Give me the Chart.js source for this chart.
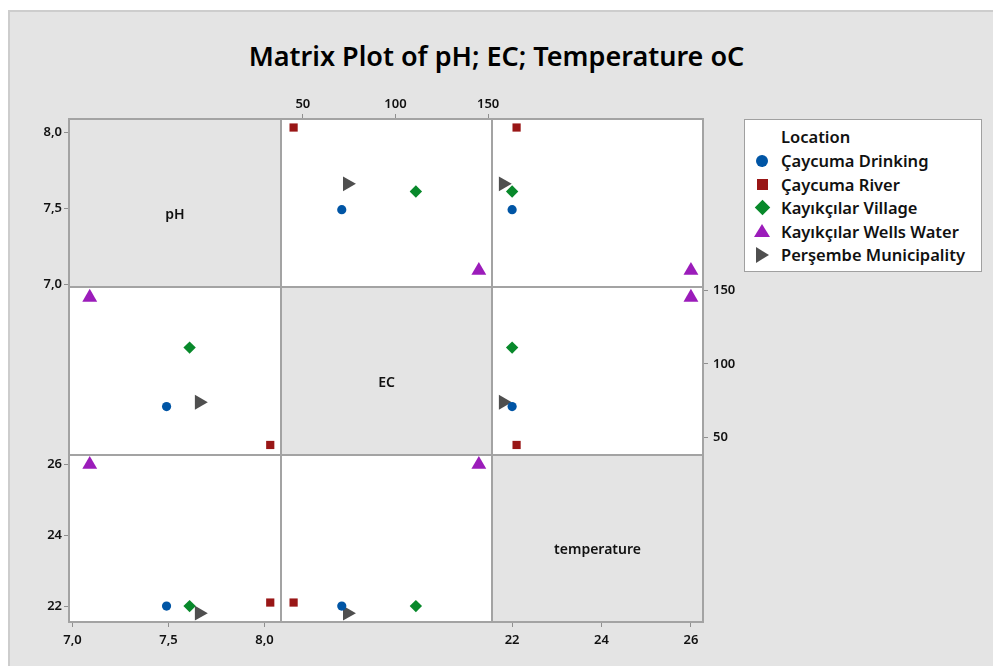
<!DOCTYPE html>
<html lang="en">
<head>
<meta charset="UTF-8">
<script src="https://cdn.jsdelivr.net/npm/chart.js"></script>
<title>Matrix Plot of pH; EC; Temperature oC</title>
<style>
  body { margin: 0; background: #fff; font-family: 'Noto Sans', 'Open Sans', sans-serif; }
  #frame { position: absolute; left: 8px; top: 10px; width: 985px; height: 656px; background: #e4e4e4;
           border-left: 2px solid #cdcdcd; border-top: 2px solid #cdcdcd; box-sizing: border-box; }
  #title { position: absolute; left: 0; top: 37px; width: 993px; text-align: center;
           font-size: 27px; font-weight: 600; color: #000; }
  canvas.panel { position: absolute; }
  #legend { position: absolute; left: 744px; top: 119px; width: 238px; height: 153px; background: #fff;
            border: 1.5px solid #a0a0a0; box-sizing: border-box; font-size: 16.5px; font-weight: 600; color: #111; }
  #legend .row { position: absolute; left: 0; height: 22px; line-height: 22px; white-space: nowrap; }
  #legend .txt { position: absolute; left: 36px; }
  #legend .mk { position: absolute; }
</style>
</head>
<body>
<div id="frame"></div>
<div id="title">Matrix Plot of pH; EC; Temperature oC</div>
<div id="legend"></div>

<script>
// data
const locations = ['Çaycuma Drinking', 'Çaycuma River', 'Kayıkçılar Village', 'Kayıkçılar Wells Water', 'Perşembe Municipality'];
const phValues = [7.49, 8.03, 7.61, 7.09, 7.66];
const ecValues = [71, 45, 111, 145, 74];
const tempValues = [22.0, 22.1, 22.0, 26.0, 21.8];
const varNames = ['pH', 'EC', 'temperature'];
const phTicks = [7, 7.5, 8];
const ecTicks = [50, 100, 150];
const tempTicks = [22, 24, 26];

// marker looks
const colors = ['#0055a5', '#991616', '#08892b', '#9b1cba', '#4f4f4f'];
const shapes = ['circle', 'rect', 'rectRot', 'triangle', 'triangle'];
const rotations = [0, 0, 0, 0, 90];
const radii = [4.6, 5.8, 6.2, 8.6, 8.6];

const fontFam = "'Noto Sans', 'Open Sans', sans-serif";

const vars = [
  { values: phValues, ticks: phTicks, min: 6.982, max: 8.086, fmt: v => v.toFixed(1).replace('.', ',') },
  { values: ecValues, ticks: ecTicks, min: 38.2, max: 152.1, fmt: v => String(v) },
  { values: tempValues, ticks: tempTicks, min: 21.55, max: 26.27, fmt: v => String(v) }
];

// panel grid edges in page pixels
const colX = [69, 281, 492, 703];
const rowY = [119, 287, 455, 622];
const M = 40;

// which panels carry visible axes
const axisSides = {
  '0,0': { y: 'left' },
  '0,1': { x: 'top' },
  '1,2': { y: 'right' },
  '2,0': { y: 'left', x: 'bottom' },
  '2,2': { x: 'bottom' }
};

const panelPlugin = {
  id: 'panel',
  beforeDraw(chart, args, opts) {
    const a = chart.chartArea, ctx = chart.ctx;
    ctx.save();
    ctx.fillStyle = opts.diag ? '#e4e4e4' : '#ffffff';
    ctx.fillRect(a.left, a.top, a.right - a.left, a.bottom - a.top);
    ctx.restore();
  },
  afterDraw(chart, args, opts) {
    const a = chart.chartArea, ctx = chart.ctx;
    ctx.save();
    if (opts.label) {
      ctx.fillStyle = '#111';
      ctx.font = '600 14px ' + fontFam;
      ctx.textAlign = 'center';
      ctx.textBaseline = 'middle';
      ctx.fillText(opts.label, (a.left + a.right) / 2, (a.top + a.bottom) / 2 + 12);
    }
    ctx.strokeStyle = '#a3a3a3';
    ctx.lineWidth = 2;
    ctx.strokeRect(a.left, a.top, a.right - a.left, a.bottom - a.top);
    ctx.restore();
  }
};

function makeScale(v, axis, pos) {
  const sc = {
    type: 'linear',
    position: pos || (axis === 'x' ? 'bottom' : 'left'),
    display: !!pos,
    min: v.min,
    max: v.max,
    afterBuildTicks: s => { s.ticks = v.ticks.map(t => ({ value: t })); },
    grid: { drawOnChartArea: false, drawTicks: true, tickLength: 5, color: '#8f8f8f', lineWidth: 1 },
    border: { display: false },
    ticks: {
      color: '#111',
      font: { family: fontFam, size: 13, weight: '600' },
      padding: (pos === 'right' || pos === 'bottom') ? 5 : 2,
      autoSkip: false, maxRotation: 0,
      callback: val => v.fmt(val)
    }
  };
  if (pos) {
    sc.afterFit = s => {
      if (axis === 'x') s.height = M; else s.width = M;
      s.paddingLeft = s.paddingRight = s.paddingTop = s.paddingBottom = 0;
    };
  }
  return sc;
}

for (let r = 0; r < 3; r++) {
  for (let c = 0; c < 3; c++) {
    const w = colX[c + 1] - colX[c], h = rowY[r + 1] - rowY[r];
    const cv = document.createElement('canvas');
    cv.className = 'panel';
    cv.width = w + 2 * M;
    cv.height = h + 2 * M;
    cv.style.left = (colX[c] - M) + 'px';
    cv.style.top = (rowY[r] - M) + 'px';
    document.body.appendChild(cv);

    const sides = axisSides[r + ',' + c] || {};
    const datasets = [];
    if (r !== c) {
      locations.forEach((name, i) => {
        datasets.push({
          label: name,
          data: [{ x: vars[c].values[i], y: vars[r].values[i] }],
          pointStyle: shapes[i],
          pointRotation: rotations[i],
          pointRadius: radii[i],
          pointHoverRadius: radii[i],
          pointBackgroundColor: colors[i],
          pointBorderColor: colors[i],
          pointBorderWidth: 0
        });
      });
    }

    new Chart(cv, {
      type: 'scatter',
      data: { datasets: datasets },
      options: {
        responsive: false,
        animation: false,
        events: [],
        layout: {
          padding: {
            left: sides.y === 'left' ? 0 : M,
            right: sides.y === 'right' ? 0 : M,
            top: sides.x === 'top' ? 0 : M,
            bottom: sides.x === 'bottom' ? 0 : M
          }
        },
        scales: {
          x: makeScale(vars[c], 'x', sides.x),
          y: makeScale(vars[r], 'y', sides.y)
        },
        plugins: {
          legend: { display: false },
          tooltip: { enabled: false },
          panel: { diag: r === c, label: r === c ? varNames[r] : null }
        }
      },
      plugins: [panelPlugin]
    });
  }
}

// legend box
const legend = document.getElementById('legend');
const head = document.createElement('div');
head.className = 'row';
head.style.top = '6px';
head.innerHTML = '<span class="txt">Location</span>';
legend.appendChild(head);

const markerCss = [
  'left:11px;top:5px;width:12px;height:12px;border-radius:50%;background:' + colors[0],
  'left:12px;top:5px;width:11px;height:11px;background:' + colors[1],
  'left:12px;top:5px;width:11px;height:11px;transform:rotate(45deg);background:' + colors[2],
  'left:9px;top:3px;width:0;height:0;border-left:8px solid transparent;border-right:8px solid transparent;border-bottom:13px solid ' + colors[3],
  'left:11px;top:3px;width:0;height:0;border-top:8px solid transparent;border-bottom:8px solid transparent;border-left:13px solid ' + colors[4]
];
locations.forEach((name, i) => {
  const row = document.createElement('div');
  row.className = 'row';
  row.style.top = (30 + i * 23.5) + 'px';
  row.innerHTML = '<span class="mk" style="' + markerCss[i] + '"></span><span class="txt">' + name + '</span>';
  legend.appendChild(row);
});
</script>
</body>
</html>
